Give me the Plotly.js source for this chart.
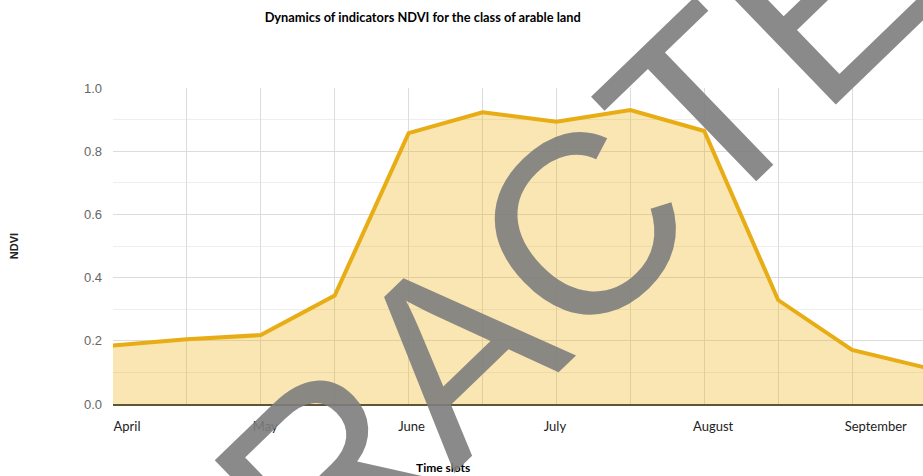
<!DOCTYPE html>
<html>
<head>
<meta charset="utf-8">
<script src="https://cdn.plot.ly/plotly-3.0.1.min.js"></script>
<style>
html, body { margin: 0; padding: 0; overflow: hidden; background: #fff; }
#chart { width: 923px; height: 476px; }
</style>
</head>
<body>
<div id="chart"></div>
<script>
// Time slots (half-month steps), April to September
const slots = [0, 1, 2, 3, 4, 5, 6, 7, 8, 9, 10, 11];
const ndvi = [0.185, 0.205, 0.218, 0.343, 0.857, 0.923, 0.893, 0.930, 0.864, 0.329, 0.171, 0.115];
const monthLabels = ['April', 'May', 'June', 'July', 'August', 'September'];
const monthTickPos = [0.19, 2.06, 4.04, 5.98, 8.12, 10.32];

const trace = {
  x: slots,
  y: ndvi,
  type: 'scatter',
  mode: 'lines',
  fill: 'tozeroy',
  fillcolor: 'rgba(240,180,20,0.33)',
  line: { color: '#E8AC14', width: 4 },
  hoverinfo: 'y',
  showlegend: false
};
// invisible trace to bind month labels axis
const labelTrace = {
  x: monthTickPos,
  y: monthTickPos.map(() => null),
  xaxis: 'x2',
  yaxis: 'y',
  type: 'scatter',
  mode: 'lines',
  showlegend: false,
  hoverinfo: 'skip'
};

const layout = {
  width: 923,
  height: 476,
  margin: { l: 113, r: 0, t: 88, b: 72 },
  paper_bgcolor: '#ffffff',
  plot_bgcolor: '#ffffff',
  title: {
    text: 'Dynamics of indicators NDVI for the class of arable land',
    font: { family: 'Lato, sans-serif', size: 12.8, color: '#000', weight: 'bold' },
    xref: 'container', x: 0.458, xanchor: 'center',
    yref: 'container', y: 0.964, yanchor: 'middle'
  },
  xaxis: {
    range: [0, 10.96],
    showgrid: true,
    gridcolor: '#dcdcdc',
    gridwidth: 1,
    dtick: 1,
    tick0: 0,
    showticklabels: false,
    zeroline: false,
    showline: true,
    linecolor: '#5e5636',
    linewidth: 1.5,
    ticks: ''
  },
  xaxis2: {
    overlaying: 'x',
    anchor: 'y',
    side: 'bottom',
    range: [0, 10.96],
    tickmode: 'array',
    tickvals: monthTickPos,
    ticktext: monthLabels,
    showgrid: false,
    zeroline: false,
    showline: false,
    ticks: '',
    ticklabelstandoff: 13,
    tickfont: { family: 'Lato, sans-serif', size: 13, color: '#222' }
  },
  yaxis: {
    range: [0, 1.0],
    dtick: 0.2,
    tick0: 0,
    tickformat: '.1f',
    showgrid: true,
    gridcolor: '#dcdcdc',
    gridwidth: 1,
    minor: { dtick: 0.1, showgrid: true, gridcolor: '#eeeeee', gridwidth: 1 },
    zeroline: false,
    showline: false,
    ticks: '',
    ticklabelstandoff: 10,
    tickfont: { family: 'Liberation Sans, Arial, sans-serif', size: 13, color: '#666' },
    title: {
      text: 'NDVI',
      standoff: 63,
      font: { family: 'Liberation Sans, Arial, sans-serif', size: 11, color: '#222', weight: 'bold' }
    }
  },
  annotations: [
    {
      text: 'Time slots',
      xref: 'paper', yref: 'paper',
      x: 0.407, y: -0.2,
      xanchor: 'center', yanchor: 'middle',
      showarrow: false,
      font: { family: 'Lato, sans-serif', size: 12, color: '#000', weight: 'bold' }
    },
    {
      text: 'RACTE',
      xref: 'paper', yref: 'paper',
      x: 0.565, y: 0.526,
      xanchor: 'center', yanchor: 'middle',
      showarrow: false,
      textangle: -44,
      font: { family: 'Liberation Sans, Arial, sans-serif', size: 255, color: 'rgba(125,125,125,0.9)' }
    }
  ]
};

Plotly.newPlot('chart', [trace, labelTrace], layout, { displayModeBar: false, staticPlot: true });
</script>
</body>
</html>
